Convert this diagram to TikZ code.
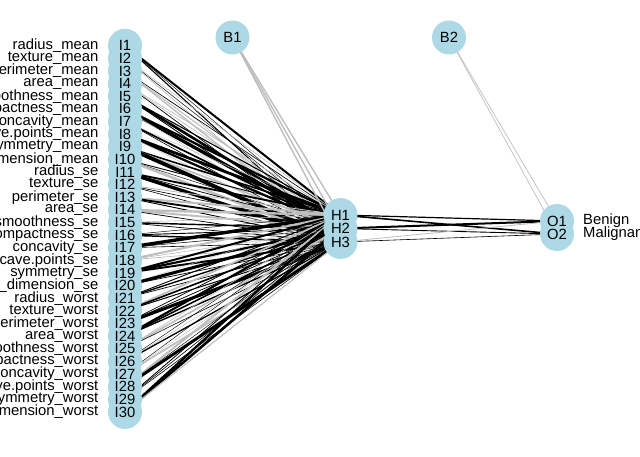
\documentclass[tikz,border=0pt]{standalone}
\usepackage{fontspec}
\setmainfont{Liberation Sans}
\usetikzlibrary{backgrounds}
\definecolor{nodeblue}{RGB}{173,216,230}
\definecolor{neggray}{RGB}{190,190,190}
\begin{document}
\begin{tikzpicture}[x=1pt,y=-1pt,
  neuron/.style={circle,fill=nodeblue,minimum size=34pt,inner sep=0pt},
  ntext/.style={inner sep=0pt,font=\fontsize{14.8}{14.8}\selectfont},
  poswt/.style={black},
  negwt/.style={neggray}]
\useasboundingbox (0,0) rectangle (640,457);
\clip (0,0) rectangle (640,457);
% circles first, the texts go on top of them
\foreach \i in {1,...,30}
  \node [neuron] (I\i) at (125,{45.7+(\i-1)*12.63}) {};
\foreach \j/\y in {1/215,2/228.5,3/242}
  \node [neuron] (H\j) at (340.5,\y) {};
\foreach \k/\y in {1/221,2/234}
  \node [neuron] (O\k) at (557,\y) {};
\node [neuron] (B1) at (232.5,37.5) {};
\node [neuron] (B2) at (449,37.5) {};
% texts
\foreach \name [count=\i] in {radius\_mean,texture\_mean,perimeter\_mean,area\_mean,
    smoothness\_mean,compactness\_mean,concavity\_mean,concave.points\_mean,
    symmetry\_mean,fractal\_dimension\_mean,radius\_se,texture\_se,perimeter\_se,
    area\_se,smoothness\_se,compactness\_se,concavity\_se,concave.points\_se,
    symmetry\_se,fractal\_dimension\_se,radius\_worst,texture\_worst,
    perimeter\_worst,area\_worst,smoothness\_worst,compactness\_worst,
    concavity\_worst,concave.points\_worst,symmetry\_worst,fractal\_dimension\_worst}{
  \node [ntext] (tI\i) at (I\i) {I\i};
  \node [ntext,anchor=east] (lI\i) at (98.5,{45.7+(\i-1)*12.63}) {\name};
}
\foreach \j in {1,2,3}
  \node [ntext] (tH\j) at (H\j) {H\j};
\foreach \k in {1,2}
  \node [ntext] (tO\k) at (O\k) {O\k};
\node [ntext] (tB1) at (B1) {B1};
\node [ntext] (tB2) at (B2) {B2};
\node [ntext,anchor=west] (lO1) at (583,221) {Benign};
\node [ntext,anchor=west] (lO2) at (583,234) {Malignant};
% weights
\begin{scope}[on background layer]
\pgfmathsetseed{11}
\foreach \i in {1,...,30}
  \foreach \j in {1,2,3}{
    \pgfmathsetmacro\w{rand+0.05}
    \pgfmathsetmacro\lw{0.4+3.2*abs(\w)*abs(\w)}
    \ifdim\w pt>0pt \def\wt{poswt}\else\def\wt{negwt}\fi
    \draw [\wt,line width=\lw pt] (I\i.center) -- (H\j.center);
  }
\foreach \j in {1,2,3}
  \draw [negwt,line width=1.4pt] (B1.center) -- (H\j.center);
\foreach \k in {1,2}
  \draw [negwt,line width=0.7pt] (B2.center) -- (O\k.center);
\draw [poswt,line width=1.2pt] (H1.center) -- (O1.center);
\draw [poswt,line width=1.6pt] (H1.center) -- (O2.center);
\draw [poswt,line width=2pt] (H2.center) -- (O1.center);
\draw [poswt,line width=0.9pt] (H2.center) -- (O2.center);
\draw [negwt,line width=0.8pt] (H3.center) -- (O1.center);
\draw [poswt,line width=0.6pt] (H3.center) -- (O2.center);
\end{scope}
\end{tikzpicture}
\end{document}
